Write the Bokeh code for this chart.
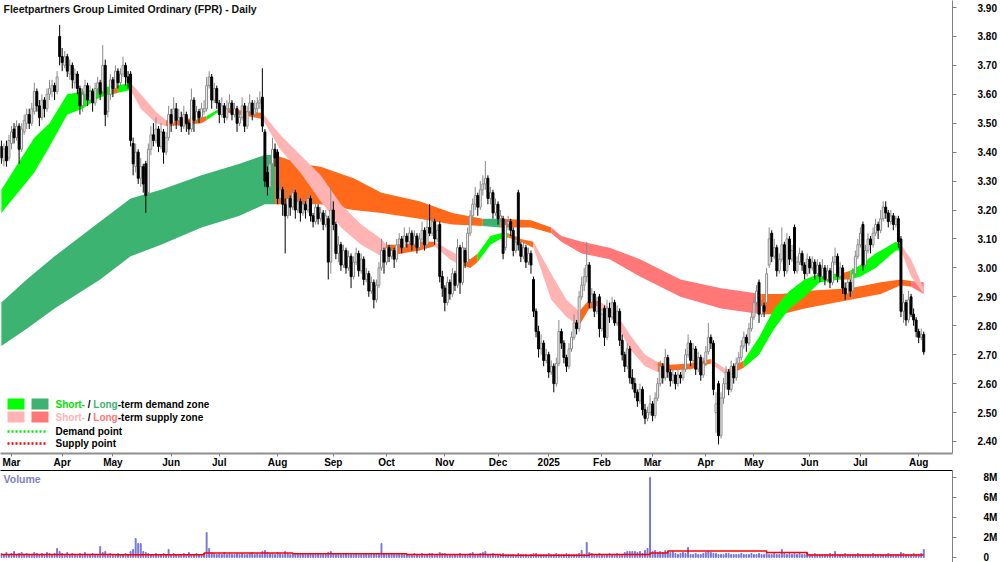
import numpy as np
import pandas as pd
from bokeh.plotting import figure
from bokeh.layouts import column
from bokeh.models import ColumnDataSource, FixedTicker, Range1d, Label, LinearAxis
from bokeh.embed import file_html
from bokeh.resources import INLINE

# ------------------------------------------------------------------ data
title_text = "Fleetpartners Group Limited Ordinary (FPR) - Daily"
first_day, last_day = "2024-02-26", "2025-08-05"
holidays = ["2024-03-29", "2024-04-01", "2024-04-25", "2024-06-10", "2024-12-25",
            "2024-12-26", "2025-01-01", "2025-01-27", "2025-04-18", "2025-04-21",
            "2025-04-25", "2025-06-09"]

# prices in cents, one value per trading day
open_c = [
    342,337,342,338,343,348,345,349,341,347,
    350,353,350,354,361,356,352,358,355,360,
    361,363,361,380,373,370,373,367,370,364,
    367,362,356,360,363,358,361,357,362,364,
    361,370,354,360,365,362,368,364,367,370,
    366,367,343,335,340,331,335,336,326,341,
    346,344,348,342,347,340,345,353,350,355,
    351,352,349,353,350,348,358,351,354,352,
    354,355,363,366,358,362,357,353,356,352,
    355,357,353,355,350,352,356,349,354,357,
    353,355,357,359,347,333,328,336,341,340,
    324,327,322,318,324,321,326,320,323,319,
    322,320,324,318,316,321,317,319,315,317,
    302,320,315,305,308,301,306,300,304,297,
    302,305,299,303,296,298,292,295,289,294,
    300,306,302,307,304,306,303,308,310,307,
    311,309,312,308,311,307,310,313,308,314,
    312,316,310,315,297,293,288,295,291,298,
    294,307,295,306,302,312,318,322,325,321,
    327,329,331,324,326,319,322,317,317,307,
    315,316,313,306,326,308,304,307,302,305,
    296,285,278,272,274,268,270,264,266,260,
    267,278,274,269,266,272,276,281,279,290,
    294,297,301,288,291,285,290,279,286,276,
    286,283,288,281,285,275,270,266,272,262,
    260,257,254,258,251,248,250,253,249,255,
    260,266,262,269,264,261,263,260,263,262,
    265,270,274,268,272,265,269,263,267,271,
    276,274,250,260,242,255,260,264,258,266,
    262,267,269,273,276,274,279,283,288,295,
    284,287,288,301,312,304,307,299,303,308,
    299,310,303,314,299,302,305,301,298,303,
    300,302,298,301,297,300,296,299,295,302,
    304,297,300,293,291,295,292,298,304,308,
    315,301,306,310,308,312,315,313,317,321,
    319,316,318,315,317,310,285,288,282,290,
    284,282,278,276,277]
high_c = [
    344,343,344,346,349,350,351,350,350,353,
    355,355,357,364,362,358,360,359,362,365,
    365,364,368,384,376,375,374,372,371,369,
    368,363,362,365,364,363,362,364,366,365,
    377,372,362,367,366,370,369,369,373,371,
    368,368,345,343,341,338,336,337,343,349,
    350,352,349,350,348,347,356,355,359,357,
    355,354,356,354,351,362,359,356,355,357,
    358,366,368,367,364,363,358,359,357,358,
    360,358,357,356,354,359,357,356,360,358,
    358,359,361,369,348,335,338,345,343,341,
    330,328,324,327,325,328,327,325,324,324,
    323,326,325,319,323,322,321,320,320,318,
    328,323,316,311,309,308,307,306,305,304,
    307,306,305,304,300,299,297,296,296,302,
    310,307,309,308,308,307,310,312,311,314,
    312,314,313,313,312,312,316,314,317,322,
    318,317,315,316,299,294,297,296,300,299,
    310,308,309,307,314,320,324,328,326,330,
    332,337,332,328,327,324,323,320,318,317,
    318,317,314,311,327,309,309,308,307,306,
    297,286,280,277,275,272,271,268,267,269,
    282,279,275,270,274,278,284,282,292,297,
    300,309,302,293,292,290,291,286,287,289,
    288,290,289,287,286,277,271,274,273,265,
    262,258,260,259,253,252,256,254,257,262,
    268,267,272,270,265,265,264,265,264,267,
    272,277,275,274,273,271,270,269,273,281,
    277,275,257,261,257,262,266,265,268,267,
    269,271,275,278,277,281,285,290,294,296,
    289,288,300,314,313,310,308,305,314,309,
    312,311,308,315,304,307,306,302,305,304,
    304,303,303,302,303,301,301,300,304,307,
    305,302,301,295,297,296,300,306,310,314,
    316,308,312,311,314,317,316,320,323,323,
    320,320,319,318,318,311,291,289,292,291,
    286,283,279,279,278]
low_c = [
    336,335,335,337,341,343,344,336,340,346,
    348,348,349,353,354,349,351,352,354,358,
    359,358,360,370,368,369,366,365,362,362,
    360,353,354,358,356,357,354,356,360,358,
    360,349,352,358,359,361,362,363,366,363,
    362,342,332,333,329,328,326,319,325,339,
    342,343,340,341,336,339,344,347,349,348,
    349,347,348,347,346,347,347,350,350,351,
    353,354,362,355,357,355,350,352,350,351,
    354,351,352,347,349,351,347,348,353,351,
    352,353,355,347,328,325,327,335,335,322,
    322,318,305,317,318,320,317,319,316,318,
    317,319,316,314,315,315,316,313,314,296,
    298,313,303,302,299,300,298,299,293,296,
    301,297,298,294,295,290,291,286,288,293,
    299,298,301,302,303,300,302,307,305,306,
    307,308,306,307,305,306,309,306,307,311,
    311,308,309,295,290,285,287,289,290,292,
    293,291,294,300,301,311,316,320,318,320,
    325,327,322,322,317,318,315,316,303,306,
    313,311,304,305,306,302,303,300,301,298,
    283,276,269,270,266,267,262,263,257,259,
    266,272,267,264,265,271,275,277,278,289,
    292,295,286,287,283,284,276,278,273,275,
    281,282,280,280,273,268,264,265,260,258,
    255,252,253,249,246,247,249,247,248,254,
    259,260,261,262,259,260,258,259,260,261,
    264,269,266,267,263,264,261,262,266,270,
    272,256,243,239,241,253,258,256,257,260,
    261,266,268,272,271,273,278,282,287,281,
    283,283,287,300,302,303,297,298,302,297,
    298,301,302,298,298,301,299,296,297,298,
    299,296,297,295,296,294,295,293,294,301,
    295,296,291,289,290,290,291,297,303,307,
    299,300,305,305,307,311,310,312,316,317,
    314,315,313,314,307,283,281,280,281,283,
    280,276,274,275,270]
close_c = [
    338,341,337,344,347,345,349,341,348,351,
    353,350,355,361,356,352,358,355,360,362,
    363,361,366,373,371,373,368,370,365,367,
    362,356,360,363,358,361,357,362,364,360,
    370,353,360,365,362,368,364,367,370,366,
    364,344,336,340,331,335,329,325,341,346,
    344,348,342,347,340,345,353,350,355,351,
    352,349,353,350,348,358,351,354,352,355,
    355,363,366,358,362,357,353,356,352,355,
    357,353,355,350,352,356,349,354,357,353,
    355,357,358,349,330,328,336,341,338,324,
    327,322,318,324,321,326,320,323,319,322,
    320,324,318,316,321,317,319,315,318,302,
    320,315,305,308,301,306,300,304,297,302,
    305,299,303,296,298,292,295,289,294,300,
    306,302,307,304,306,303,308,310,307,311,
    309,312,308,311,307,310,313,308,314,312,
    316,310,313,297,293,288,295,291,298,294,
    307,295,307,302,312,318,322,325,321,327,
    329,331,324,326,319,322,317,318,305,315,
    316,313,306,309,308,304,307,302,305,301,
    285,278,272,274,268,270,264,266,260,267,
    278,274,269,266,272,276,281,279,290,294,
    297,301,288,291,285,287,279,284,276,286,
    283,288,281,285,275,270,266,272,262,260,
    257,254,258,251,248,250,253,249,255,260,
    266,262,269,264,261,263,260,263,262,265,
    270,274,268,272,265,269,263,267,271,276,
    274,258,253,242,255,260,264,258,266,262,
    267,269,273,276,274,279,283,288,292,284,
    287,285,298,310,304,307,299,303,308,299,
    310,303,306,299,302,305,301,298,303,300,
    302,298,301,297,300,296,299,295,302,304,
    297,300,293,291,295,292,298,304,308,312,
    301,306,310,308,312,315,313,317,321,319,
    316,318,315,317,309,285,288,282,289,284,
    282,278,276,277,271]
# volume in tenths of a million shares
volume_tenths = [
    4,3,5,3,4,6,3,4,5,3,
    4,3,3,5,4,3,4,3,5,4,
    3,4,9,6,4,3,5,3,4,3,
    3,4,3,5,3,3,4,3,3,11,
    5,6,3,4,3,3,4,3,3,4,
    3,6,8,19,14,14,6,5,4,3,
    3,4,3,3,4,3,8,3,4,3,
    3,3,4,3,5,3,3,4,3,3,
    4,25,9,5,4,3,4,3,5,3,
    4,3,3,4,3,4,3,3,4,5,
    3,4,3,6,7,5,4,4,3,5,
    4,3,6,4,3,4,3,3,4,3,
    3,3,4,3,3,4,3,3,3,5,
    6,4,3,4,3,3,4,3,3,3,
    4,3,3,3,4,3,3,4,3,3,
    14,4,3,3,4,3,3,3,4,3,
    3,3,3,4,3,3,4,3,3,4,
    4,3,3,5,4,4,3,3,3,3,
    3,4,3,3,3,4,5,3,3,4,
    5,6,3,3,4,3,3,3,4,3,
    3,3,3,2,4,3,3,3,2,3,
    4,4,3,3,3,3,4,3,3,4,
    3,3,3,4,3,3,3,3,4,7,
    3,15,5,4,3,3,4,3,3,3,
    4,3,3,4,3,3,5,6,6,6,
    6,5,6,4,7,9,80,6,7,5,
    6,5,7,6,5,6,4,3,4,5,
    4,10,3,3,4,3,3,4,5,6,
    5,4,4,3,3,3,4,4,3,3,
    3,3,4,3,3,3,4,3,3,4,
    3,3,4,3,3,4,3,3,8,4,
    3,4,3,4,3,4,3,3,5,3,
    3,4,3,3,3,3,3,4,3,6,
    3,3,3,4,3,3,3,3,4,3,
    3,3,3,3,4,3,3,3,3,3,
    4,3,3,3,3,5,4,3,3,3,
    4,3,3,4,8]
# stepped volume average (millions), starting bar of each step
vol_ma_start = [0, 45, 80, 115, 160, 197, 232, 256, 263, 302, 318, 364]
vol_ma_value = [0.30, 0.28, 0.45, 0.37, 0.30, 0.22, 0.30, 0.45, 0.64, 0.50, 0.25, 0.25]

# long-term zone: bar index, upper edge, lower edge, zone type of the stretch that starts there
long_x = [0, 10, 21, 39, 51, 63, 79, 94, 104, 108, 118, 126, 139, 150, 165, 178, 190, 197,
          209, 217, 221, 229, 240, 252, 268, 284, 300, 308, 317, 335, 347, 355, 359, 364]
long_top = [2.88, 2.96, 3.04, 3.16, 3.24, 3.27, 3.32, 3.36, 3.39, 3.39, 3.36, 3.35, 3.31, 3.26,
            3.23, 3.19, 3.17, 3.17, 3.165, 3.14, 3.11, 3.09, 3.07, 3.03, 2.96, 2.93, 2.91, 2.91,
            2.92, 2.93, 2.95, 2.96, 2.955, 2.95]
long_bot = [2.73, 2.79, 2.86, 2.96, 3.04, 3.08, 3.14, 3.18, 3.22, 3.22, 3.22, 3.22, 3.20, 3.19,
            3.17, 3.15, 3.145, 3.14, 3.14, 3.12, 3.09, 3.05, 3.03, 2.97, 2.90, 2.86, 2.84, 2.84,
            2.86, 2.89, 2.91, 2.94, 2.935, 2.91]
long_zone = ["LD", "LD", "LD", "LD", "LD", "LD", "LD", "LD", "LD", "OR", "OR", "OR", "OR", "OR",
             "OR", "OR", "LD", "OR", "OR", "LS", "LS", "LS", "LS", "LS", "LS", "LS", "OR", "OR",
             "OR", "OR", "OR", "OR", "LS", "LS"]

# short-term zone
short_x = [0, 13, 19, 26, 32, 39, 44, 46, 51, 55, 61, 65, 79, 81, 85, 87, 94, 103, 110, 118,
           126, 134, 142, 150, 152, 158, 165, 171, 177, 180, 185, 188, 193, 197, 200, 205, 210,
           217, 223, 228, 232, 236, 242, 248, 254, 259, 264, 272, 280, 286, 287, 293, 299, 305,
           311, 317, 323, 331, 335, 339, 345, 349, 353, 355, 359, 364]
short_top = [3.27, 3.45, 3.50, 3.60, 3.61, 3.62, 3.63, 3.63, 3.64, 3.60, 3.54, 3.51, 3.52, 3.525,
             3.545, 3.55, 3.545, 3.535, 3.46, 3.39, 3.32, 3.22, 3.15, 3.10, 3.08, 3.08, 3.09,
             3.09, 3.06, 3.045, 3.03, 3.05, 3.11, 3.12, 3.12, 3.10, 3.09, 2.98, 2.89, 2.85, 2.89,
             2.885, 2.85, 2.77, 2.70, 2.675, 2.665, 2.67, 2.685, 2.65, 2.65, 2.68, 2.76, 2.86,
             2.92, 2.96, 2.98, 2.98, 2.99, 3.01, 3.05, 3.07, 3.09, 3.08, 3.03, 2.93]
short_bot = [3.19, 3.33, 3.42, 3.53, 3.55, 3.59, 3.60, 3.605, 3.615, 3.55, 3.50, 3.49, 3.50, 3.51,
             3.535, 3.54, 3.53, 3.515, 3.41, 3.33, 3.23, 3.14, 3.08, 3.04, 3.04, 3.05, 3.06,
             3.075, 3.03, 3.015, 3.00, 3.02, 3.08, 3.10, 3.105, 3.09, 3.07, 2.89, 2.83, 2.80,
             2.86, 2.86, 2.82, 2.72, 2.66, 2.64, 2.645, 2.65, 2.67, 2.63, 2.63, 2.655, 2.70, 2.79,
             2.86, 2.90, 2.95, 2.96, 2.96, 2.97, 3.00, 3.03, 3.06, 3.06, 2.97, 2.91]
short_zone = ["SD", "SD", "SD", "SD", "SD", "SD", "OR", "SD", "SS", "SS", "SS", "OR", "OR", "SD",
              "SD", "OR", "OR", "SS", "SS", "SS", "SS", "SS", "SS", "SS", "OR", "OR", "OR", "SS",
              "SS", "OR", "OR", "SD", "SD", "SD", "OR", "OR", "SS", "SS", "SS", "OR", "OR", "SS",
              "SS", "SS", "SS", "OR", "OR", "OR", "SS", "SS", "OR", "SD", "SD", "SD", "SD", "SD",
              "SD", "OR", "SD", "SD", "SD", "SD", "SD", "SS", "SS", "SS"]

price_ticks = [2.40, 2.50, 2.60, 2.70, 2.80, 2.90, 3.00, 3.10, 3.20, 3.30, 3.40, 3.50, 3.60, 3.70, 3.80, 3.90]
vol_ticks = [0, 2, 4, 6, 8]
vol_tick_labels = ["0", "2M", "4M", "6M", "8M"]

# ------------------------------------------------------------------ styling
ZONE_COL = {"SD": "#00ff00", "LD": "#3cb371", "SS": "#ffb3b3", "LS": "#ff7777", "OR": "#ff6a1a"}
FONT = "Liberation Sans"

# calibration of the screen layout (pixels)
PX0, PXB = 0.87, 2.534           # x pixel of bar 0, pixels per bar
def bx(px):
    return (px - PX0) / PXB
def py(ypx):
    return 3.90 - (ypx - 7) / 289.33
def vy(ypx):                     # pixels relative to the volume figure top (470)
    return 8.0 - (ypx - 477) / 9.875

dates = pd.bdate_range(first_day, last_day)
dates = dates[~dates.isin(pd.to_datetime(holidays))]
n = min(len(dates), len(close_c))
idx = np.arange(n)
o = np.array(open_c[:n]) / 100.0
c = np.array(close_c[:n]) / 100.0
h = np.maximum.reduce([np.array(high_c[:n]) / 100.0, o, c])
l = np.minimum.reduce([np.array(low_c[:n]) / 100.0, o, c])
vol = np.array(volume_tenths[:n]) / 10.0

month_ticks = [i for i in range(1, n) if dates[i].month != dates[i - 1].month]
month_labels = {i: (str(dates[i].year) if dates[i].month == 1 else dates[i].strftime("%b"))
                for i in month_ticks}

x_range = Range1d(bx(0), bx(952))

# ------------------------------------------------------------------ price panel
p = figure(width=1000, height=470, x_range=x_range,
           y_range=Range1d(py(453), py(0)), y_axis_location="right",
           output_backend="svg", toolbar_location=None,
           min_border_left=0, min_border_top=0, min_border_right=48, min_border_bottom=16)
p.outline_line_color = None
p.xgrid.visible = False
p.ygrid.visible = False
p.background_fill_color = "white"
p.border_fill_color = "white"

def draw_band(xs, tops, bots, zones):
    start = 0
    last = len(xs) - 1
    for k in range(1, len(xs)):
        if k == last or zones[k] != zones[start]:
            p.varea(x=xs[start:k + 1], y1=bots[start:k + 1], y2=tops[start:k + 1],
                    fill_color=ZONE_COL[zones[start]], fill_alpha=1.0)
            start = k

draw_band(long_x, long_top, long_bot, long_zone)
draw_band(short_x, short_top, short_bot, short_zone)

up = c >= o
dn = ~up
src_up = ColumnDataSource(dict(x=idx[up], h=h[up], l=l[up],
                               top=np.maximum(o, c)[up], bot=np.minimum(o, c)[up]))
src_dn = ColumnDataSource(dict(x=idx[dn], h=h[dn], l=l[dn],
                               top=np.maximum(o, c)[dn], bot=np.minimum(o, c)[dn]))
p.segment(x0="x", y0="l", x1="x", y1="h", source=src_up, line_color="#8a8a8a", line_width=1)
p.vbar(x="x", top="top", bottom="bot", width=0.75, source=src_up,
       fill_color="white", line_color="#8a8a8a", line_width=1)
p.segment(x0="x", y0="l", x1="x", y1="h", source=src_dn, line_color="black", line_width=1)
p.vbar(x="x", top="top", bottom="bot", width=0.75, source=src_dn,
       fill_color="black", line_color="black", line_width=1)

# axes
ya = p.yaxis[0]
ya.ticker = FixedTicker(ticks=price_ticks)
ya.major_label_overrides = {t: f"{t:.2f}" for t in price_ticks}
ya.axis_line_color = "#808080"
ya.major_tick_line_color = "#808080"
ya.major_tick_out = 4
ya.major_tick_in = 0
ya.minor_tick_line_color = None
ya.major_label_standoff = 21
ya.major_label_text_font = FONT
ya.major_label_text_font_style = "bold"
ya.major_label_text_font_size = "10px"
ya.major_label_text_color = "black"

xa = p.xaxis[0]
xa.ticker = FixedTicker(ticks=month_ticks)
xa.major_label_overrides = month_labels
xa.axis_line_color = "#909090"
xa.axis_line_width = 2
xa.major_tick_line_color = "#808080"
xa.major_tick_out = 3
xa.major_tick_in = 0
xa.minor_tick_line_color = None
xa.major_label_standoff = 0
xa.major_label_text_align = "left"
xa.major_label_text_font = FONT
xa.major_label_text_font_style = "bold"
xa.major_label_text_font_size = "10px"
xa.major_label_text_color = "black"

# title
p.add_layout(Label(x=bx(3), y=py(2), text=title_text, text_font=FONT, text_font_size="10.5px",
                   text_font_style="bold", text_color="#111111", text_baseline="top",
                   text_align="left"))

# legend
ADV = {"S": 667, "h": 611, "o": 611, "r": 389, "t": 333, "-": 333, "/": 278, " ": 278,
       "L": 611, "n": 611, "g": 611}
def tw(s, size=10.0):
    return sum(ADV.get(ch, 556) for ch in s) * size / 1000.0

def legend_text(xpx, ypx, txt, color):
    p.add_layout(Label(x=bx(xpx), y=py(ypx), text=txt, text_font=FONT, text_font_size="10px",
                       text_font_style="bold", text_color=color, text_baseline="middle",
                       text_align="left"))

rows = [(404, "SD", "LD", "-term demand zone", "#00e000", "#3cb371"),
        (417, "SS", "LS", "-term supply zone", "#ffb3b3", "#ff7777")]
for ypx, z1, z2, rest, c1, c2 in rows:
    p.quad(left=[bx(7)], right=[bx(24)], top=[py(ypx - 6)], bottom=[py(ypx + 5)],
           fill_color=ZONE_COL[z1], line_color=None)
    p.quad(left=[bx(31)], right=[bx(48)], top=[py(ypx - 6)], bottom=[py(ypx + 5)],
           fill_color=ZONE_COL[z2], line_color=None)
    x0 = 55
    legend_text(x0, ypx, "Short-", c1)
    x1 = x0 + tw("Short-") + tw(" ")
    legend_text(x1, ypx, "/", "black")
    x2 = x1 + tw("/") + tw(" ")
    legend_text(x2, ypx, "Long", c2)
    x3 = x2 + tw("Long")
    legend_text(x3, ypx, rest, "black")

for ypx, col, txt in [(431, "#00ee00", "Demand point"), (443, "#ff0000", "Supply point")]:
    p.line(x=[bx(7), bx(45)], y=[py(ypx), py(ypx)], line_color=col, line_width=2.5,
           line_dash="2 2")
    legend_text(55, ypx, txt, "black")

# ------------------------------------------------------------------ volume panel
p2 = figure(width=1000, height=92, x_range=x_range,
            y_range=Range1d(vy(561), vy(470)), y_axis_location="right", x_axis_location=None,
            output_backend="svg", toolbar_location=None,
            min_border_left=0, min_border_top=0, min_border_right=48, min_border_bottom=0)
p2.outline_line_color = None
p2.xgrid.visible = False
p2.ygrid.visible = False

top_ax = LinearAxis(ticker=FixedTicker(ticks=[]), axis_line_color="black", axis_line_width=1,
                    major_tick_line_color=None, minor_tick_line_color=None,
                    major_label_text_font_size="0px")
p2.add_layout(top_ax, "above")

p2.vbar(x=idx, top=vol, bottom=0, width=0.35, fill_color="#7474dc", line_color="#7474dc",
        line_width=1)
p2.step(x=vol_ma_start, y=vol_ma_value, mode="after", line_color="#ff0000", line_width=1.5)

va = p2.yaxis[0]
va.ticker = FixedTicker(ticks=vol_ticks)
va.major_label_overrides = dict(zip(vol_ticks, vol_tick_labels))
va.axis_line_color = "#808080"
va.major_tick_line_color = "#808080"
va.major_tick_out = 4
va.major_tick_in = 0
va.minor_tick_line_color = None
va.major_label_standoff = 27
va.major_label_text_font = FONT
va.major_label_text_font_style = "bold"
va.major_label_text_font_size = "10px"
va.major_label_text_color = "black"

p2.add_layout(Label(x=bx(3), y=vy(478), text="Volume", text_font=FONT, text_font_size="10.5px",
                    text_font_style="bold", text_color="#8080c8", text_baseline="middle",
                    text_align="left"))

layout = column(p, p2, spacing=0)
open("out.html", "w").write(file_html(layout, INLINE))
